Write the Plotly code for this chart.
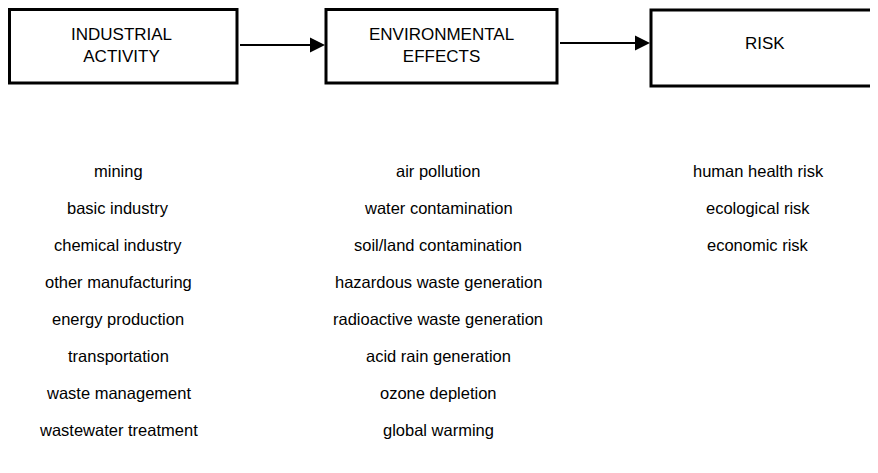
import plotly.graph_objects as go

# ---- data ----
box_titles = ["INDUSTRIAL<br>ACTIVITY", "ENVIRONMENTAL<br>EFFECTS", "RISK"]
industrial_activity = ["mining", "basic industry", "chemical industry", "other manufacturing",
                       "energy production", "transportation", "waste management",
                       "wastewater treatment"]
environmental_effects = ["air pollution", "water contamination", "soil/land contamination",
                         "hazardous waste generation", "radioactive waste generation",
                         "acid rain generation", "ozone depletion", "global warming"]
risk = ["human health risk", "ecological risk", "economic risk"]
columns = [industrial_activity, environmental_effects, risk]

# ---- layout geometry (reference pixel coordinates) ----
W, H = 878, 473
OFF = 8  # default page body margin
boxes = [(9.5, 9.5, 237, 83), (326, 9.5, 557, 83), (651, 10, 881, 86)]
col_x = [118, 438, 758]
title_x = [121.5, 441.5, 765]
title_y = [45, 45, 43]
row_y0, row_dy = 171, 37
FONT = "Liberation Sans, Arial, Helvetica, sans-serif"

fig = go.Figure()
shapes = []
annotations = []
for (x0, y0, x1, y1), t, tx, ty in zip(boxes, box_titles, title_x, title_y):
    shapes.append(dict(type="rect", xref="x", yref="y", x0=x0, y0=y0, x1=x1, y1=y1,
                       line=dict(color="black", width=3), fillcolor="white"))
    annotations.append(dict(x=tx, y=ty, xref="x", yref="y", text=t,
                            showarrow=False, font=dict(family=FONT, size=17, color="black"),
                            align="center"))

# arrows between boxes
arrows = [(boxes[0][2], boxes[1][0], 45), (boxes[1][2], boxes[2][0], 43)]
for xa, xb, y in arrows:
    annotations.append(dict(x=xb, y=y, ax=xa + 1.5, ay=y, xref="x", yref="y", axref="x", ayref="y",
                            text="", showarrow=True, arrowhead=2, arrowsize=1.5,
                            arrowwidth=2, arrowcolor="black", standoff=1))

for cx, items in zip(col_x, columns):
    for i, label in enumerate(items):
        annotations.append(dict(x=cx, y=row_y0 + i * row_dy, xref="x", yref="y", text=label,
                                showarrow=False, font=dict(family=FONT, size=16.5, color="black")))

fig.update_layout(
    width=W - OFF, height=H - OFF, margin=dict(l=0, r=0, t=0, b=0),
    paper_bgcolor="white", plot_bgcolor="white",
    xaxis=dict(range=[OFF, W], visible=False, fixedrange=True),
    yaxis=dict(range=[H, OFF], visible=False, fixedrange=True),
    shapes=shapes, annotations=annotations, showlegend=False,
)
fig.write_html("out.html")
